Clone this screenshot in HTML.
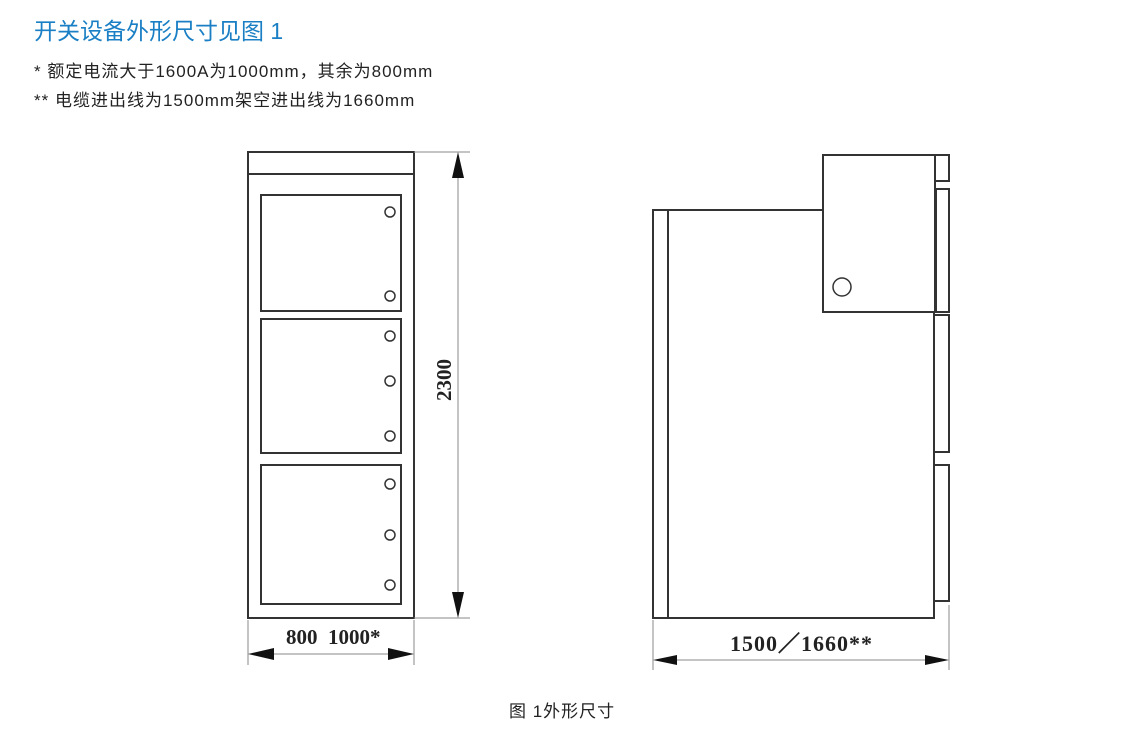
<!DOCTYPE html>
<html><head><meta charset="utf-8"><style>
body{margin:0;background:#fff;width:1140px;height:748px;overflow:hidden;font-family:"Liberation Sans","Noto Sans CJK SC",sans-serif}
.t{position:absolute;white-space:nowrap}
</style></head><body>
<div class="t" style="left:34px;top:12px;font-size:23px;color:#1a7fc4">开关设备外形尺寸见图 1</div>
<div class="t" style="left:34px;top:57px;font-size:17px;letter-spacing:1px;color:#222">* 额定电流大于1600A为1000mm，其余为800mm</div>
<div class="t" style="left:34px;top:86px;font-size:17px;letter-spacing:1px;color:#222">** 电缆进出线为1500mm架空进出线为1660mm</div>
<div class="t" style="left:509px;top:697px;font-size:17px;letter-spacing:1px;color:#222">图 1外形尺寸</div>
<svg width="1140" height="748" style="position:absolute;left:0;top:0" fill="none" stroke="#333">
<g stroke-width="2">
<rect x="248" y="152" width="166" height="466"/>
<line x1="248" y1="174" x2="414" y2="174"/>
<rect x="261" y="195" width="140" height="116"/>
<rect x="261" y="319" width="140" height="134"/>
<rect x="261" y="465" width="140" height="139"/>
</g>
<g stroke-width="1.5">
<circle cx="390" cy="212" r="5"/><circle cx="390" cy="296" r="5"/>
<circle cx="390" cy="336" r="5"/><circle cx="390" cy="381" r="5"/><circle cx="390" cy="436" r="5"/>
<circle cx="390" cy="484" r="5"/><circle cx="390" cy="535" r="5"/><circle cx="390" cy="585" r="5"/>
</g>
<g stroke="#888" stroke-width="1">
<line x1="414" y1="152" x2="470" y2="152"/><line x1="414" y1="618" x2="470" y2="618"/>
<line x1="458" y1="160" x2="458" y2="612"/>
<line x1="248" y1="620" x2="248" y2="665"/><line x1="414" y1="620" x2="414" y2="665"/>
<line x1="255" y1="654" x2="408" y2="654"/>
<line x1="653" y1="620" x2="653" y2="670"/><line x1="949" y1="605" x2="949" y2="670"/>
<line x1="660" y1="660" x2="942" y2="660"/>
</g>
<g fill="#111" stroke="none">
<polygon points="458,152 452,178 464,178"/><polygon points="458,618 452,592 464,592"/>
<polygon points="248,654 274,648 274,660"/><polygon points="414,654 388,648 388,660"/>
<polygon points="653,660 677,655 677,665"/><polygon points="949,660 925,655 925,665"/>
</g>
<g stroke-width="2">
<rect x="653" y="210" width="15" height="408"/>
<polyline points="668,210 823,210"/>
<polyline points="668,618 934,618 934,312"/>
<rect x="823" y="155" width="112" height="157"/>
<rect x="935" y="155" width="14" height="26"/>
<rect x="936" y="189" width="13" height="123"/>
<rect x="934" y="315" width="15" height="137"/>
<rect x="934" y="465" width="15" height="136"/>
</g>
<circle cx="842" cy="287" r="9" stroke-width="1.5"/>
<g fill="#222" stroke="none" font-family="Liberation Serif,serif" font-weight="bold">
<text x="286" y="644" font-size="21" xml:space="preserve">800  1000*</text>
<text x="730" y="651" font-size="22" letter-spacing="1">1500／1660**</text>
<text transform="translate(451,380) rotate(-90)" text-anchor="middle" font-size="21">2300</text>
</g>
</svg>
</body></html>
